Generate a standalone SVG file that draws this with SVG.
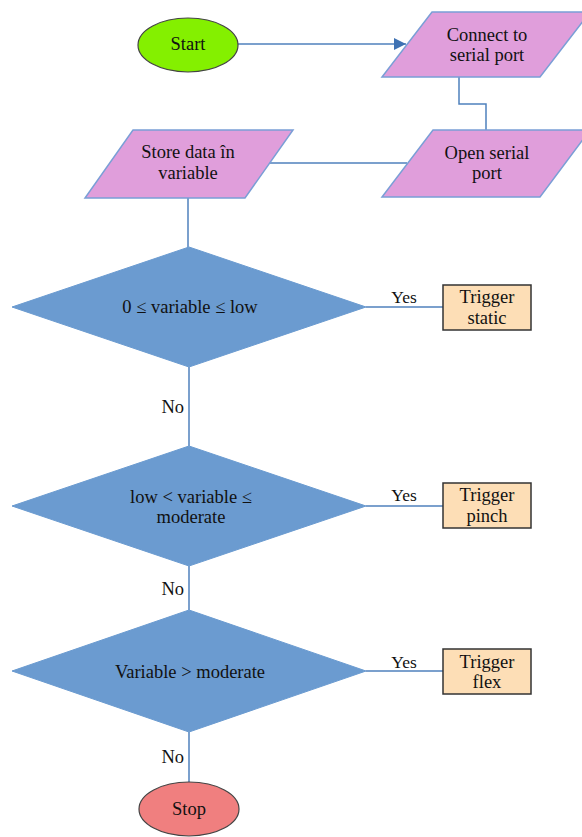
<svg xmlns="http://www.w3.org/2000/svg" width="582" height="837" viewBox="0 0 582 837">
<style>
text{font-family:"Liberation Serif","Times New Roman",serif;font-size:18.5px;fill:#111;text-anchor:middle}
.lbl{font-size:17.5px}
.no{text-anchor:end}
.conn{fill:none;stroke:#4f81bd;stroke-width:1.5}
.para{fill:#e09edb;stroke:#7a9fd6;stroke-width:1.5}
.dia{fill:#6b9bd0;stroke:#6b9bd0;stroke-width:1}
.box{fill:#fddeb6;stroke:#333;stroke-width:1.5}
.term{stroke:#444;stroke-width:1.2}
</style>
<defs>
<marker id="arr" markerUnits="userSpaceOnUse" markerWidth="12" markerHeight="12" viewBox="0 0 12 12" refX="12" refY="6" orient="auto">
<path d="M0,0 L12,6 L0,12 z" fill="#3f72b3"/>
</marker>
</defs>
<g id="connectors">
<line class="conn" x1="238" y1="44" x2="406" y2="44" marker-end="url(#arr)"/>
<polyline class="conn" points="459,77 459,104 486,104 486,130"/>
<line class="conn" x1="407" y1="163" x2="269" y2="163"/>
<line class="conn" x1="188" y1="198" x2="188" y2="247"/>
<line class="conn" x1="366" y1="307" x2="443" y2="307"/>
<line class="conn" x1="189" y1="367" x2="189" y2="446"/>
<line class="conn" x1="366" y1="506" x2="443" y2="506"/>
<line class="conn" x1="189" y1="566" x2="189" y2="610"/>
<line class="conn" x1="366" y1="671" x2="443" y2="671"/>
<line class="conn" x1="189" y1="732" x2="189" y2="782"/>
<text class="lbl" x="404" y="303">Yes</text>
<text class="lbl" x="404" y="501">Yes</text>
<text class="lbl" x="404" y="668">Yes</text>
<text class="no" x="184" y="413">No</text>
<text class="no" x="184" y="595">No</text>
<text class="no" x="184" y="763">No</text>
</g>
<g id="start">
<ellipse class="term" cx="188" cy="45" rx="50" ry="27" fill="#84f000"/>
<text x="188" y="50">Start</text>
</g>
<g id="connect">
<polygon class="para" points="432,12 590,12 540,77 382,77"/>
<text x="487" y="41">Connect to</text>
<text x="487" y="61">serial port</text>
</g>
<g id="open">
<polygon class="para" points="433,130 590,130 540,197 382,197"/>
<text x="487" y="159">Open serial</text>
<text x="487" y="179">port</text>
</g>
<g id="store">
<polygon class="para" points="133,130 293,130 245,198 85,198"/>
<text x="188" y="158">Store data în</text>
<text x="188" y="179">variable</text>
</g>
<g id="dec1">
<polygon class="dia" points="189,247 366,307 189,367 12,307"/>
<text x="190" y="313">0 ≤ variable ≤ low</text>
</g>
<g id="static">
<rect class="box" x="443" y="285" width="88" height="45"/>
<text x="487" y="303">Trigger</text>
<text x="487" y="324">static</text>
</g>
<g id="dec2">
<polygon class="dia" points="189,446 366,506 189,566 12,506"/>
<text x="191" y="503">low &lt; variable ≤</text>
<text x="191" y="523">moderate</text>
</g>
<g id="pinch">
<rect class="box" x="443" y="483" width="88" height="45"/>
<text x="487" y="501">Trigger</text>
<text x="487" y="522">pinch</text>
</g>
<g id="dec3">
<polygon class="dia" points="189,610 366,671 189,732 12,671"/>
<text x="190" y="678">Variable &gt; moderate</text>
</g>
<g id="flex">
<rect class="box" x="443" y="649" width="88" height="45"/>
<text x="487" y="668">Trigger</text>
<text x="487" y="688">flex</text>
</g>
<g id="stop">
<ellipse class="term" cx="189" cy="809" rx="50" ry="27" fill="#f07f7f"/>
<text x="189" y="815">Stop</text>
</g>
</svg>
